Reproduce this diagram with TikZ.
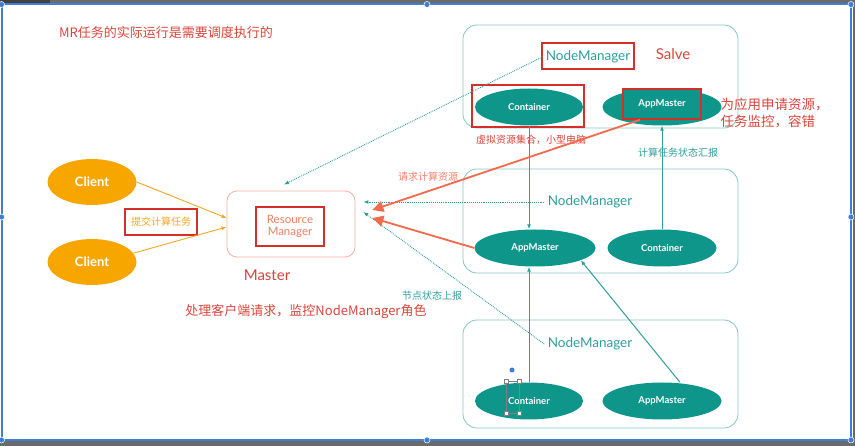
\documentclass[tikz,border=0pt]{standalone}
\usepackage{fontspec}
\setmainfont{Lato}
\newfontfamily\cjk{Noto Sans CJK SC}
\usetikzlibrary{arrows.meta,shapes.geometric}
\definecolor{tealfill}{HTML}{0E968A}
\definecolor{tealtext}{HTML}{2E9E9A}
\definecolor{tealborder}{HTML}{86C6C4}
\definecolor{redtxt}{HTML}{D9443A}
\definecolor{redbox}{HTML}{D52F2A}
\definecolor{clientc}{HTML}{F7A600}
\definecolor{orangetxt}{HTML}{F5A623}
\definecolor{salmon}{HTML}{F4B3A3}
\definecolor{rmtext}{HTML}{EF7E5F}
\definecolor{arrorange}{HTML}{F26A4B}
\definecolor{frameblue}{HTML}{3D7FD6}
\definecolor{framegray}{HTML}{6A6A6A}
\newcommand{\fsz}[1]{\fontsize{#1}{#1}\selectfont}
\begin{document}
\begin{tikzpicture}[x=1pt,y=-1pt,
  client/.style={ellipse, fill=clientc, inner sep=0pt, minimum width=89pt, minimum height=46pt, text=white, font=\bfseries\fsz{13}},
  worker/.style={ellipse, fill=tealfill, inner sep=0pt, minimum height=37pt, text=white, font=\bfseries\fsz{9.5}},
  nodebox/.style={draw=tealborder, line width=0.8pt, rounded corners=14pt, minimum width=275pt},
  redframe/.style={draw=redbox, line width=1.6pt, inner sep=0pt},
  nmtext/.style={text=tealtext, font=\fsz{13.5}},
  tealarrow/.style={draw=tealtext, line width=1pt, -{Latex[length=5pt,width=4pt]}},
  dotarrow/.style={draw=tealtext, line width=0.9pt, densely dotted, -{Latex[length=5pt,width=4pt]}},
  clientarrow/.style={draw=orangetxt, line width=0.9pt, -{Latex[length=5pt,width=4pt]}},
  bigarrow/.style={draw=arrorange, line width=1.8pt, -{Triangle[length=11pt,width=11pt]}},
  handle/.style={circle, fill=frameblue, draw=white, line width=0.5pt, inner sep=0pt, minimum size=6pt}
]
\useasboundingbox (0,0) rectangle (855,446);
% screenshot frame
\fill[framegray] (0,0) rectangle (855,3.5);
\fill[black!75] (0,0) rectangle (50,3.5);
\fill[framegray] (0,441) rectangle (855,446);
\fill[framegray] (852.5,0) rectangle (855,446);
\draw[frameblue, line width=2pt] (1.5,4.5) rectangle (851,440);
\foreach \hx/\hy [count=\i] in {1.5/4.5, 427/4.5, 851/4.5, 1.5/217, 851/217, 1.5/440, 427/440, 851/440}
  \node[handle] (h\i) at (\hx,\hy) {};

% title
\node[text=redtxt, font=\cjk\fsz{13}] (title) at (166,33) {MR任务的实际运行是需要调度执行的};

% clients
\node[client] (c1) at (92,182) {Client};
\node[client] (c2) at (92,262) {Client};
\node[redframe, minimum width=72pt, minimum height=26pt, text=orangetxt, font=\cjk\fsz{10}] (submit) at (161,222) {提交计算任务};

% master
\node[draw=salmon, line width=0.8pt, rounded corners=10pt, minimum width=128pt, minimum height=66pt] (master) at (291,224) {};
\node[redframe, minimum width=68pt, minimum height=39pt, text=rmtext, align=center, font=\fsz{11.5}] (rm) at (290,226.5) {Resource\\[1pt]Manager};
\node[text=redtxt, font=\fsz{15}] (mlabel) at (267,275) {Master};
\node[text=redtxt, font=\cjk\fsz{13}] (mdesc) at (306,312) {处理客户端请求，监控NodeManager角色};

\draw[clientarrow] (c1.east) -- ([yshift=6pt]master.west);
\draw[clientarrow] (c2.12) -- ([yshift=-3pt]master.west);

% slave boxes
\node[nodebox, minimum height=103pt] (box1) at (600.5,76.5) {};
\node[nodebox, minimum height=104pt] (box2) at (600.5,221) {};
\node[nodebox, minimum height=108pt] (box3) at (600.5,374) {};

% top node
\node[nmtext] (tnm) at (588,57) {NodeManager};
\node[redframe, minimum width=92pt, minimum height=26pt] (tnmbox) at (588,56) {};
\node[text=redtxt, font=\fsz{15}] (salve) at (673,54) {Salve};
\node[worker, minimum width=108pt] (tc) at (529,107) {Container};
\node[redframe, minimum width=112pt, minimum height=42pt] (tcbox) at (528,106) {};
\node[worker, minimum width=119pt] (ta) at (662,107) {};
\node[redframe, fill=tealfill, minimum width=78pt, minimum height=30pt, text=white, font=\bfseries\fsz{9.5}] (tabox) at (662,104) {AppMaster};
\node[text=redtxt, font=\cjk\fsz{13.5}, align=left, anchor=west] (tadesc) at (717,113) {为应用申请资源，\\[3pt]任务监控，容错};
\node[text=redtxt, font=\cjk\fsz{10}] (tcdesc) at (531,140) {虚拟资源集合，小型电脑};

% middle node
\node[nmtext] (mnm) at (590,202) {NodeManager};
\node[worker, minimum width=121pt] (ma) at (535,248) {AppMaster};
\node[worker, minimum width=109pt] (mc) at (662,248) {Container};

% bottom node
\node[nmtext] (bnm) at (590,344) {NodeManager};
\node[worker, minimum width=108pt] (bc) at (529,401) {Container};
\node[worker, minimum width=119pt] (ba) at (662,401) {AppMaster};

% labels
\node[text=tealtext, font=\cjk\fsz{10}] (report) at (678,153) {计算任务状态汇报};
\node[text=arrorange!85, font=\cjk\fsz{10}] (request) at (428,177) {请求计算资源};
\node[text=tealtext, font=\cjk\fsz{10}] (status) at (432,296) {节点状态上报};

% teal solid arrows
\draw[tealarrow] (tc.south) -- (tc.south |- ma.north);
\draw[tealarrow] (mc.north) -- (mc.north |- ta.south);
\draw[tealarrow] (bc.north) -- (bc.north |- ma.south);
\draw[tealarrow] ([xshift=18pt]ba.north) -- (ma.-15);

% dotted heartbeat arrows
\draw[dotarrow] (tnm.west) -- ([xshift=-7pt,yshift=6pt]master.north);
\draw[dotarrow] (mnm.west) -- ([xshift=8pt,yshift=22pt]master.east);
\draw[dotarrow] (bnm.west) -- ([xshift=8pt,yshift=12pt]master.east);

% resource request arrows
\draw[bigarrow] ([xshift=-22pt]tabox.south) -- ([xshift=17pt,yshift=14pt]master.east);
\draw[bigarrow] (ma.west) -- ([xshift=17pt,yshift=6pt]master.east);

% selection marks
\node[circle, fill=frameblue, inner sep=0pt, minimum size=5pt] (seldot) at (512,370) {};
\draw[gray, line width=0.6pt] (506,381) rectangle (519,413);
\foreach \sx/\sy in {506/381, 519/381, 506/413, 519/413}
  \draw[gray, fill=white, line width=0.5pt] (\sx-1.8,\sy-1.8) rectangle (\sx+1.8,\sy+1.8);
\end{tikzpicture}
\end{document}
